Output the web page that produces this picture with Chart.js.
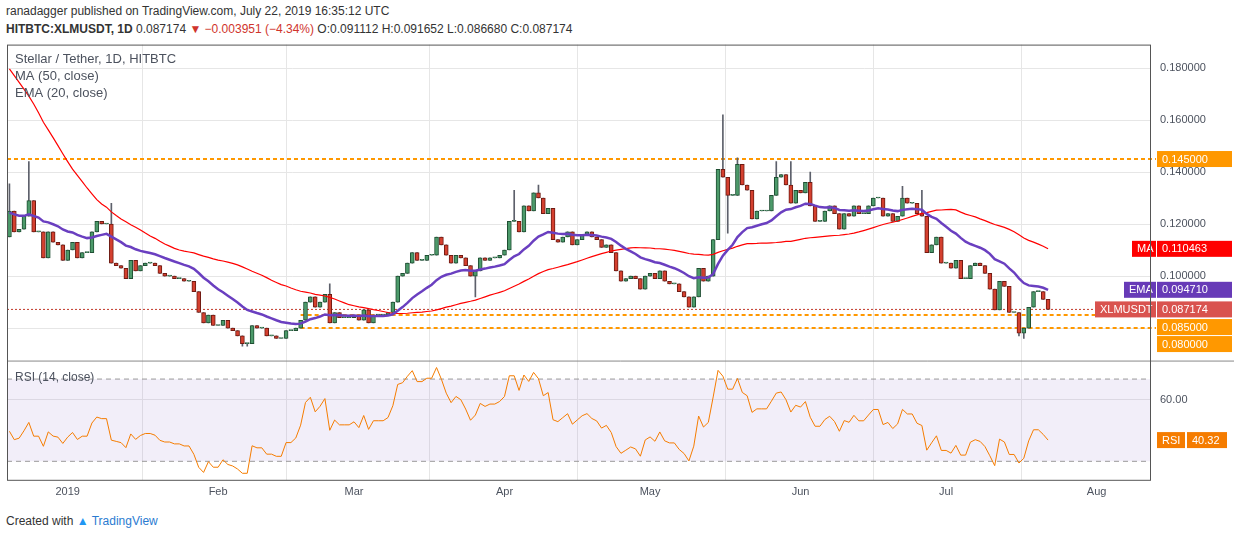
<!DOCTYPE html>
<html><head><meta charset="utf-8">
<script src="https://cdn.jsdelivr.net/npm/chart.js@4"></script>
<style>
body{margin:0;background:#fff;font-family:Arial,"Liberation Sans",sans-serif;width:1234px;height:540px;overflow:hidden;position:relative}
#h1{position:absolute;left:6px;top:4px;font-size:12px;color:#333}
#h2{position:absolute;left:6px;top:22px;font-size:12px;color:#333}
#wrap{position:absolute;left:0;top:28px;width:1234px;height:477px}
#foot{position:absolute;left:6px;top:514px;font-size:12px;color:#333}
.r{color:#d0342c}
</style></head><body>
<div id="h1">ranadagger published on TradingView.com, July 22, 2019 16:35:12 UTC</div>
<div id="h2"><b>HITBTC:XLMUSDT, 1D</b> 0.087174 <span class="r">▼ −0.003951 (−4.34%)</span> O:0.091112 H:0.091652 L:0.086680 C:0.087174</div>
<div id="wrap"><canvas id="c" width="1234" height="477"></canvas></div>
<div id="foot">Created with <span style="color:#2196f3">▲</span> <span style="color:#2a7bd1">TradingView</span></div>
<script>
// pre-history closes (Oct 31 - Dec 19, 2018) used only for indicator warm-up
const preCloses=[0.245,0.247,0.250,0.252,0.262,0.268,0.285,0.290,0.265,0.262,0.265,0.262,0.262,0.258,0.225,0.230,0.232,0.230,0.232,0.205,0.180,0.195,0.175,0.168,0.155,0.160,0.150,0.158,0.165,0.160,0.150,0.158,0.152,0.140,0.142,0.132,0.120,0.113,0.112,0.118,0.112,0.108,0.110,0.105,0.100,0.101,0.103,0.108,0.112,0.115];
// daily closes Dec 20 2018 - Jul 22 2019
const closesA=[0.125,0.117,0.118,0.123,0.129,0.117,0.117,0.107,0.117,0.113,
0.112,0.106,0.110,0.113,0.107,0.109,0.109,0.117,0.121,0.120,
0.120,0.105,0.104,0.103,0.099,0.106,0.102,0.104,0.105,0.105,
0.104,0.101,0.100,0.100,0.099,0.099,0.098,0.098,0.094,0.086,
0.082,0.085,0.081,0.081,0.083,0.080,0.079,0.077,0.074,0.074,
0.081,0.080,0.080,0.077,0.077,0.076,0.076,0.079,0.079,0.080,
0.083,0.090,0.092,0.088,0.090,0.093,0.082,0.086,0.084,0.084,
0.084,0.085,0.083,0.087,0.082,0.085,0.085,0.085,0.086,0.090,
0.100,0.101];
const closesB=[0.105,0.109,0.106,0.106,0.108,0.108,0.115,0.112,0.108,0.105,
0.108,0.107,0.104,0.100,0.102,0.107,0.106,0.107,0.107,0.108,
0.110,0.121,0.121,0.117,0.127,0.125,0.132,0.130,0.124,0.126,
0.114,0.113,0.115,0.117,0.112,0.114,0.116,0.117,0.115,0.114,
0.111,0.112,0.109,0.102,0.098,0.099,0.100,0.099,0.095,0.100,
0.101,0.099,0.102,0.098,0.097,0.097,0.094,0.092,0.088,0.092,
0.103,0.098,0.100,0.114,0.141,0.138,0.131,0.131,0.143,0.135,
0.133,0.122,0.125,0.125,0.125,0.131,0.138,0.139];
const closesC=[0.135,0.128,0.133,0.132,0.136,0.127,0.121,0.121,0.125,0.127,
0.124,0.118,0.124,0.123,0.127,0.124,0.124,0.127,0.130,0.130,
0.123,0.124,0.121,0.123,0.130,0.128,0.128,0.124,0.123,0.109,
0.112,0.115,0.105,0.105,0.103,0.106,0.099,0.099,0.104,0.105,
0.104,0.101,0.095,0.087,0.098,0.096,0.086,0.086,0.078,0.080,
0.088,0.094,0.094,0.091,0.087174];
// notable wick extremes [dayIndex, value]
const highWicks=[[0,0.1355],[4,0.144],[21,0.128],[66,0.097],[104,0.133],[109,0.135],[147,0.162],[150,0.1455],[158,0.144],[161,0.144],[165,0.140],[184,0.1345],[188,0.133]];
const lowWicks=[[48,0.073],[49,0.073],[96,0.092],[148,0.1165],[208,0.077],[209,0.076]];
const monthTicks=[12,43,71,102,132,163,193,224];
const monthLabels=['2019','Feb','Mar','Apr','May','Jun','Jul','Aug'];
const priceTicks=[0.08,0.10,0.12,0.14,0.16,0.18];
const levels=[0.145,0.085,0.080];

const closes=closesA.concat(closesB,closesC);
const all=preCloses.concat(closes);
const P=preCloses.length;
const N=closes.length;
const hiMap=Object.fromEntries(highWicks), loMap=Object.fromEntries(lowWicks);
const bodies=[],wicks=[],bodyCol=[],bodyBord=[];
for(let i=0;i<N;i++){
  const o=all[P+i-1], c=closes[i];
  const hi=Math.max(o,c,hiMap[i]??0), lo=Math.min(o,c,loMap[i]??1);
  bodies.push({x:i,y:[o,c]}); wicks.push({x:i,y:[lo,hi]});
  const up=c>=o; bodyCol.push(up?'#4c9a6a':'#d4402f'); bodyBord.push(up?'#1f4f33':'#6e1a12');
}
// indicators
const ma=[],ema=[],rsi=[];
let e=all[0];const k=2/21;
for(let j=1;j<all.length;j++){e=all[j]*k+e*(1-k); if(j>=P) ema.push({x:j-P,y:e});}
for(let i=0;i<N;i++){let s=0;for(let j=P+i-49;j<=P+i;j++)s+=all[j];ma.push({x:i,y:s/50});}
let ag=0,al=0;
for(let j=1;j<=14;j++){const d=all[j]-all[j-1];ag+=Math.max(d,0)/14;al+=Math.max(-d,0)/14;}
for(let j=15;j<all.length;j++){const d=all[j]-all[j-1];ag=(ag*13+Math.max(d,0))/14;al=(al*13+Math.max(-d,0))/14;
  if(j>=P) rsi.push({x:j-P,y:100-100/(1+ag/al)});}

function box(ctx,x,y,w,txt,bg,fg){ctx.fillStyle=bg;ctx.fillRect(x,y-8,w,16);ctx.fillStyle=fg||'#fff';ctx.textBaseline='middle';ctx.textAlign='left';ctx.fillText(txt,x+5,y+0.5);}
const deco={id:'deco',
 beforeDatasetsDraw(ch){const {ctx,chartArea:a,scales:{x,y,y2}}=ch;ctx.save();
  ctx.fillStyle='rgba(149,117,205,0.12)';const t=y2.getPixelForValue(70),b=y2.getPixelForValue(30);ctx.fillRect(a.left,t,a.right-a.left,b-t);
  ctx.setLineDash([5,4]);ctx.strokeStyle='#999';ctx.lineWidth=1;
  [t,b].forEach(p=>{ctx.beginPath();ctx.moveTo(a.left,p);ctx.lineTo(a.right,p);ctx.stroke();});
  ctx.strokeStyle='#ff9800';ctx.lineWidth=2;ctx.setLineDash([4,3]);
  levels.forEach(v=>{const p=y.getPixelForValue(v);ctx.beginPath();ctx.moveTo(v===0.145?a.left:x.getPixelForValue(60),p);ctx.lineTo(a.right+6,p);ctx.stroke();});
  ctx.strokeStyle='#c0392b';ctx.lineWidth=1;ctx.setLineDash([2,2]);const lp=y.getPixelForValue(closes[N-1]);
  ctx.beginPath();ctx.moveTo(a.left,lp);ctx.lineTo(a.right,lp);ctx.stroke();
  ctx.setLineDash([]);ctx.strokeStyle='#888';ctx.beginPath();ctx.moveTo(a.left,y.bottom+0.5);ctx.lineTo(ch.width,y.bottom+0.5);ctx.stroke();
  ctx.restore();},
 afterDraw(ch){const {ctx,chartArea:a,scales:{y,y2}}=ch;ctx.save();ctx.font='11px Arial';
  const R=a.right+7,W=75;
  box(ctx,R,y.getPixelForValue(0.145),W,'0.145000','#ff9800');
  const mv=ma[N-1].y,ev=ema[N-1].y;
  box(ctx,a.right-18,y.getPixelForValue(mv),24,'MA','#ff0000');box(ctx,R,y.getPixelForValue(mv),W,mv.toFixed(6),'#ff0000');
  box(ctx,a.right-26,y.getPixelForValue(ev),32,'EMA','#673ab7');box(ctx,R,y.getPixelForValue(ev),W,ev.toFixed(6),'#673ab7');
  const lp=y.getPixelForValue(closes[N-1]);
  box(ctx,a.right-55,lp,61,'XLMUSDT','#d9534f');box(ctx,R,lp,W,closes[N-1].toFixed(6),'#d9534f');
  box(ctx,R,y.getPixelForValue(0.085)+12,W,'0.085000','#ff9800');box(ctx,R,y.getPixelForValue(0.080)+16,W,'0.080000','#ff9800');
  const rv=rsi[N-1].y,rp=y2.getPixelForValue(rv);box(ctx,R,rp,28,'RSI','#f57c00');box(ctx,R+30,rp,40,rv.toFixed(2),'#f57c00');
  ctx.fillStyle='#4c525e';ctx.textBaseline='middle';ctx.font='13px Arial';
  ctx.fillText('Stellar / Tether, 1D, HITBTC',15,a.top+15);ctx.fillText('MA (50, close)',15,a.top+32);ctx.fillText('EMA (20, close)',15,a.top+49);
  ctx.font='12px Arial';ctx.fillText('RSI (14, close)',15,y2.top+17);
  ctx.strokeStyle='#555';ctx.lineWidth=1;ctx.strokeRect(a.left+0.5,a.top+0.5,a.right-a.left,y2.bottom-a.top);
  ctx.restore();}};
new Chart(document.getElementById('c'),{
 data:{datasets:[
  {type:'bar',data:wicks,backgroundColor:'#5d606b',barThickness:1,grouped:false,yAxisID:'y',order:3},
  {type:'bar',data:bodies,backgroundColor:bodyCol,borderColor:bodyBord,borderWidth:1,borderSkipped:false,barThickness:4,minBarLength:1,grouped:false,yAxisID:'y',order:2},
  {type:'line',data:ma,borderColor:'#ff0000',borderWidth:1.2,pointRadius:0,yAxisID:'y',order:1},
  {type:'line',data:ema,borderColor:'#6a3fc0',borderWidth:2.5,pointRadius:0,yAxisID:'y',order:0},
  {type:'line',data:rsi,borderColor:'#f57c00',borderWidth:1,pointRadius:0,yAxisID:'y2'}
 ]},
 options:{responsive:false,animation:false,plugins:{legend:{display:false},tooltip:{enabled:false}},
  layout:{padding:{top:4,left:7,right:0}},
  scales:{
   x:{type:'linear',min:-0.5,max:235,offset:false,afterBuildTicks:s=>{s.ticks=monthTicks.map(v=>({value:v}));},
      ticks:{callback:v=>monthLabels[monthTicks.indexOf(v)],color:'#4c525e',font:{size:11},maxRotation:0,padding:6},
      grid:{color:'#e6e6e6',drawTicks:false},border:{display:false}},
   y:{type:'linear',position:'right',stack:'p',stackWeight:2.65,min:0.0675,max:0.189,
      afterBuildTicks:s=>{s.ticks=priceTicks.map(v=>({value:v}));},afterFit:s=>{s.width=84;},
      ticks:{callback:v=>v.toFixed(6),color:'#4c525e',font:{size:11},padding:10},grid:{color:'#e6e6e6',drawTicks:false},border:{display:false}},
   y2:{type:'linear',position:'right',stack:'p',stackWeight:1,min:21,max:79,
      afterBuildTicks:s=>{s.ticks=[{value:60}];},afterFit:s=>{s.width=84;},
      ticks:{callback:v=>v.toFixed(2),color:'#4c525e',font:{size:11},padding:10},grid:{color:'#e6e6e6',drawTicks:false},border:{display:false}}
  }},
 plugins:[deco]});
</script></body></html>
